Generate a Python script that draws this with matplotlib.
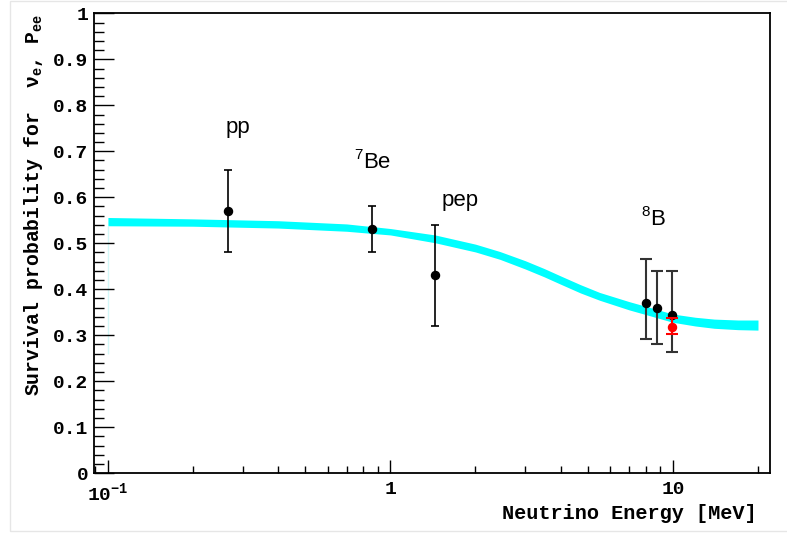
import matplotlib.pyplot as plt
import numpy as np
from matplotlib.patches import Rectangle
from matplotlib.ticker import FixedLocator, FuncFormatter, LogLocator, MultipleLocator, NullFormatter

plt.rcParams['mathtext.fontset'] = 'custom'
plt.rcParams['mathtext.rm'] = 'Liberation Mono:bold'
plt.rcParams['mathtext.it'] = 'Liberation Mono:bold'
plt.rcParams['mathtext.bf'] = 'Liberation Mono:bold'

MONO = 'Liberation Mono'
SANS = ['Liberation Sans', 'DejaVu Sans']

# MSW-LMA prediction band (lower / upper edge)
band_energy = [0.1, 0.2, 0.4, 0.7, 1.0, 1.44, 2.0, 2.44, 3.0, 3.5, 4.0, 4.7, 5.5, 7.0, 8.0, 10.0, 12.0, 14.0, 17.0, 20.0]
band_low = [0.538, 0.537, 0.533, 0.526, 0.518, 0.501, 0.481, 0.465, 0.444, 0.427, 0.411, 0.392, 0.376, 0.355, 0.345, 0.328, 0.320, 0.315, 0.312, 0.311]
band_high = [0.556, 0.553, 0.549, 0.542, 0.532, 0.518, 0.498, 0.482, 0.462, 0.445, 0.429, 0.410, 0.393, 0.373, 0.363, 0.346, 0.339, 0.335, 0.333, 0.333]

# pp, 7Be, pep measurements
low_energy = [0.266, 0.862, 1.44]
low_pee = [0.57, 0.53, 0.43]
low_err = [0.09, 0.05, 0.11]

# 8B measurements
b8_energy = [8.0, 8.8, 9.9]
b8_pee = [0.37, 0.36, 0.345]
b8_err_dn = [0.079, 0.08, 0.081]
b8_err_up = [0.095, 0.08, 0.095]

# 8B high-precision point
b8red_energy = [9.9]
b8red_pee = [0.318]
b8red_err_dn = [0.016]
b8red_err_up = [0.019]

fig = plt.figure(figsize=(7.87, 5.34), dpi=100)
ax = fig.add_axes([0.120, 0.114, 0.858, 0.861])

ax.fill_between(band_energy, band_low, band_high, color='#00ffff', lw=0, zorder=2)
ax.vlines(band_energy[0], 0.26, band_low[0], color='#d4f8f8', lw=1, zorder=1)

ax.errorbar(low_energy, low_pee, yerr=low_err, fmt='o', color='black', ms=5.8,
            elinewidth=1.2, capsize=3, capthick=1.2, zorder=3)
ax.errorbar(b8_energy, b8_pee, yerr=[b8_err_dn, b8_err_up], fmt='o', color='black',
            ecolor='#333333', ms=5.8, elinewidth=1.5, capsize=4.3, capthick=1.5, zorder=3)
ax.errorbar(b8red_energy, b8red_pee, yerr=[b8red_err_dn, b8red_err_up], fmt='o', color='red',
            ms=5.8, elinewidth=1.5, capsize=4.3, capthick=1.5, zorder=4)

# source names; mass numbers set as small raised text before the symbol
labels = ['pp', 'Be', 'pep', 'B']
mass_numbers = ['', '7', '', '8']
label_x = [0.261, 0.80, 1.515, 8.32]
label_y = [0.739, 0.663, 0.581, 0.5395]
for lab, sup, lx, ly in zip(labels, mass_numbers, label_x, label_y):
    ax.text(lx, ly, lab, family=SANS, fontsize=16, ha='left', va='baseline')
    if sup:
        ax.annotate(sup, (lx, ly), xytext=(-0.5, 6.5), textcoords='offset points',
                    family=SANS, fontsize=11, ha='right', va='baseline')

ax.set_xscale('log')
ax.set_xlim(0.0896, 22.0)
ax.set_ylim(0, 1)

ax.xaxis.set_major_locator(FixedLocator([0.1, 1, 10]))
ax.xaxis.set_major_formatter(FuncFormatter(lambda v, p: {0.1: r'$10^{-1}$', 1: '1', 10: '10'}.get(round(v, 3), '')))
ax.xaxis.set_minor_locator(LogLocator(base=10, subs=np.arange(2, 10), numticks=20))
ax.xaxis.set_minor_formatter(NullFormatter())
ax.yaxis.set_major_locator(MultipleLocator(0.1))
ax.yaxis.set_minor_locator(MultipleLocator(0.02))
ax.yaxis.set_major_formatter(FuncFormatter(lambda v, p: '%g' % round(v, 2)))

ax.tick_params(axis='both', which='both', direction='in', top=False, right=False, width=1)
ax.tick_params(axis='x', which='major', length=9.4, pad=6)
ax.tick_params(axis='x', which='minor', length=4.7)
ax.tick_params(axis='y', which='major', length=14.4, pad=4.5)
ax.tick_params(axis='y', which='minor', length=7.2)
for lab in ax.get_xticklabels() + ax.get_yticklabels():
    lab.set_fontfamily(MONO)
    lab.set_fontweight('bold')
    lab.set_fontsize(14)

for sp in ax.spines.values():
    sp.set_linewidth(1.3)

ax.set_xlabel('Neutrino Energy [MeV]', family=MONO, weight='bold', fontsize=14.6, ha='right')
ax.xaxis.set_label_coords(0.981, -0.068)
ax.set_ylabel(r'Survival probability for  $\nu_e$, P$_{ee}$', family=MONO, weight='bold',
              fontsize=14.2, ha='right')
ax.yaxis.set_label_coords(-0.073, 1.0)

fig.patches.append(Rectangle((10 / 787, 3 / 534), 1.0, 0.992, transform=fig.transFigure,
                             fill=False, edgecolor='#e6e6e6', lw=1))

fig.savefig('out.png', dpi=100)
